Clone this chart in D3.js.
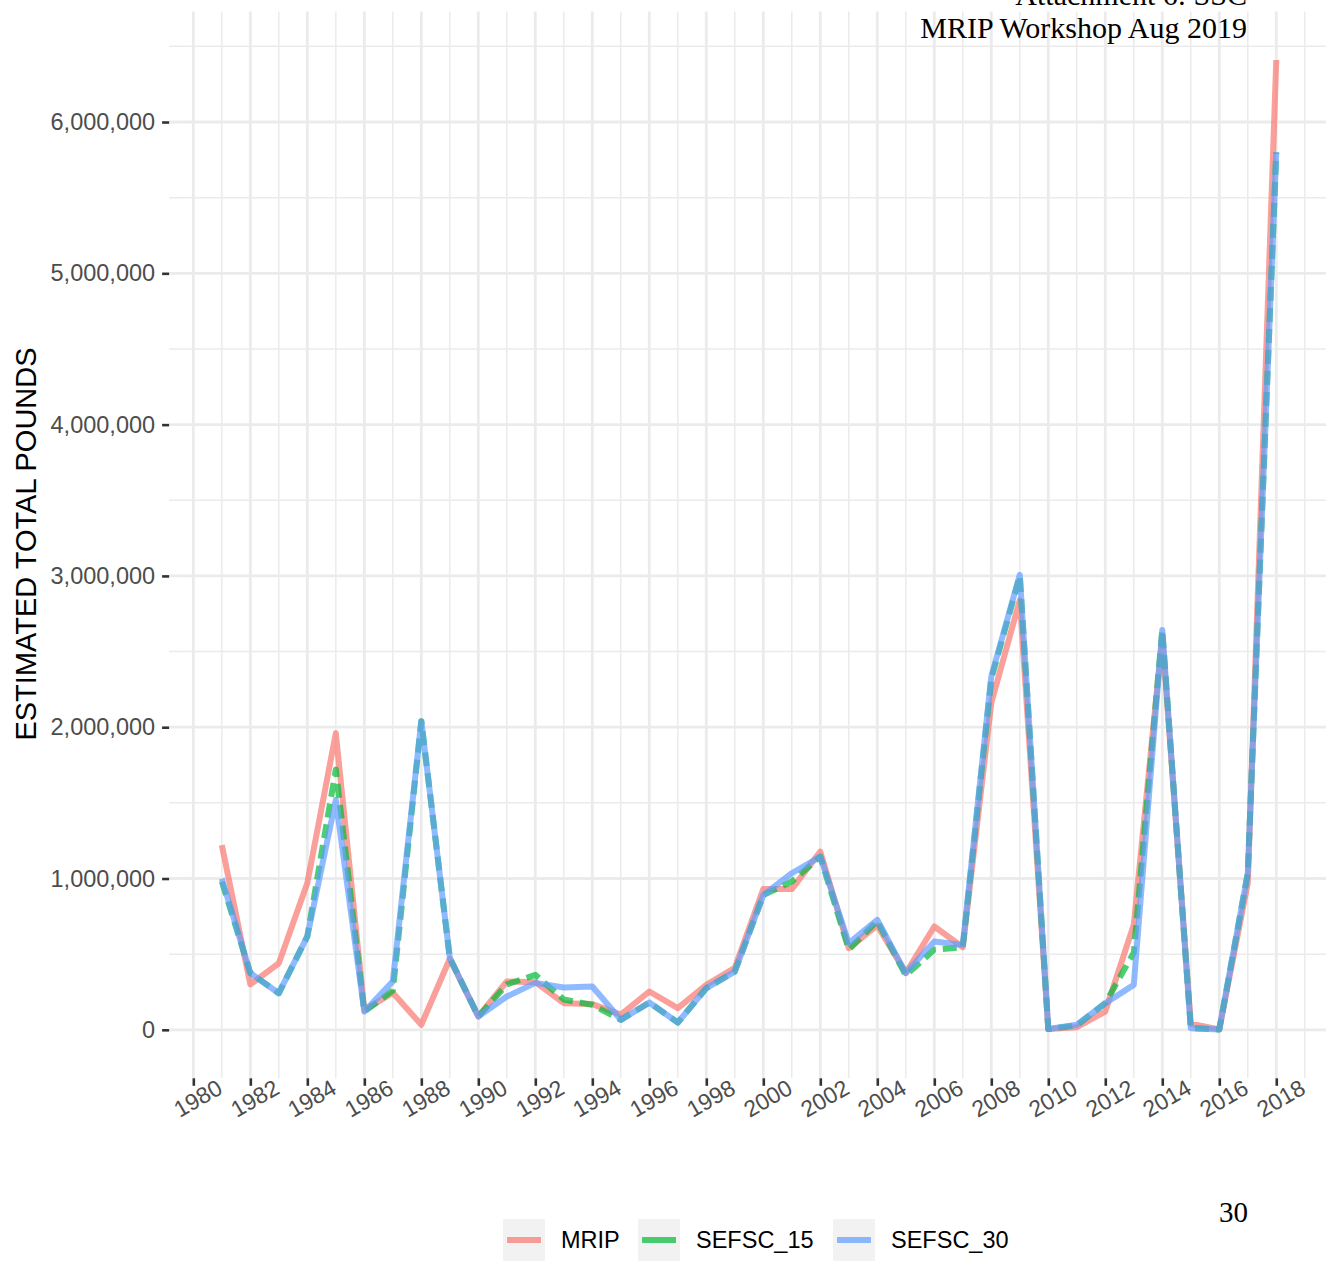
<!DOCTYPE html>
<html><head><meta charset="utf-8">
<script src="https://cdn.jsdelivr.net/npm/d3@7"></script>
<style>
html,body{margin:0;padding:0;background:#fff;}
svg{display:block;}
</style></head>
<body>
<svg id="chart" width="1326" height="1261"></svg>
<script>
const years = d3.range(1981, 2019);
const mrip = [1220000,300000,440000,970000,1960000,130000,245000,33000,470000,88000,
  320000,315000,176000,170000,100000,253000,143000,297000,410000,930000,
  930000,1178000,540000,690000,375000,683000,546000,2160000,2840000,5000,
  17000,121000,694000,2600000,40000,3000,969000,6410000];
const sefsc15 = [980000,375000,242000,617000,1720000,120000,260000,2040000,474000,88000,
  300000,363000,200000,165000,66000,180000,48000,275000,385000,890000,
  980000,1145000,530000,720000,360000,530000,546000,2320000,3000000,5000,
  30000,176000,510000,2643000,11000,2000,1035000,5800000];
const sefsc30 = [1000000,375000,242000,617000,1520000,120000,320000,2040000,474000,88000,
  220000,310000,280000,286000,66000,180000,48000,275000,385000,890000,
  1035000,1145000,573000,727000,375000,584000,560000,2335000,3007000,5000,
  33000,176000,297000,2643000,11000,2000,1035000,5800000];
const seriesNames = ["MRIP","SEFSC_15","SEFSC_30"];
const seriesColors = ["#F8766D","#00BA38","#619CFF"];
const xTicks = d3.range(1980, 2019, 2);
const yTicks = [0,1000000,2000000,3000000,4000000,5000000,6000000];

const svg = d3.select("#chart");
const panel = {left:169.1, right:1329, top:11.5, bottom:1078.3};
const x = d3.scaleLinear().domain([1979.15, 2019.85]).range([panel.left, panel.right]);
const y = d3.scaleLinear().domain([-320500, 6730500]).range([panel.bottom, panel.top]);

const grid = svg.append("g");
const xMinor = d3.range(1979, 2020, 2).filter(v => v > 1979.15 && v < 2019.85);
const yMinor = d3.range(-500000, 7000000, 1000000).filter(v => v > -320500 && v < 6730500);
grid.selectAll(".xm").data(xMinor).enter().append("line")
  .attr("x1", d=>x(d)).attr("x2", d=>x(d)).attr("y1", panel.top).attr("y2", panel.bottom)
  .attr("stroke","#EBEBEB").attr("stroke-width",1.5);
grid.selectAll(".ym").data(yMinor).enter().append("line")
  .attr("x1", panel.left).attr("x2", panel.right).attr("y1", d=>y(d)).attr("y2", d=>y(d))
  .attr("stroke","#EBEBEB").attr("stroke-width",1.5);
grid.selectAll(".xM").data(xTicks).enter().append("line")
  .attr("x1", d=>x(d)).attr("x2", d=>x(d)).attr("y1", panel.top).attr("y2", panel.bottom)
  .attr("stroke","#EBEBEB").attr("stroke-width",2.8);
grid.selectAll(".yM").data(yTicks).enter().append("line")
  .attr("x1", panel.left).attr("x2", panel.right).attr("y1", d=>y(d)).attr("y2", d=>y(d))
  .attr("stroke","#EBEBEB").attr("stroke-width",2.8);

const yAxis = svg.append("g").attr("transform", `translate(${panel.left},0)`)
  .call(d3.axisLeft(y).tickValues(yTicks).tickFormat(d3.format(",")).tickSize(7).tickPadding(7));
yAxis.select(".domain").remove();
yAxis.selectAll(".tick line").attr("stroke","#333333").attr("stroke-width",2.6);
yAxis.selectAll(".tick text").attr("fill","#4D4D4D")
  .style("font-family","'Liberation Sans', Arial, sans-serif").style("font-size","23.5px");

const xAxis = svg.append("g").attr("transform", `translate(0,${panel.bottom})`)
  .call(d3.axisBottom(x).tickValues(xTicks).tickFormat(d3.format("d")).tickSize(7.5));
xAxis.select(".domain").remove();
xAxis.selectAll(".tick line").attr("stroke","#333333").attr("stroke-width",2.6);
xAxis.selectAll(".tick text").remove();
xAxis.selectAll(".tick").append("text")
  .attr("fill","#4D4D4D")
  .style("font-family","'Liberation Sans', Arial, sans-serif").style("font-size","23px")
  .attr("text-anchor","middle")
  .attr("transform","translate(4,20) rotate(-30)")
  .attr("dy","0.35em")
  .text(d=>d);

svg.append("text")
  .attr("transform","translate(36,544) rotate(-90)")
  .attr("text-anchor","middle")
  .style("font-family","'Liberation Sans', Arial, sans-serif").style("font-size","29px")
  .attr("fill","#000").text("ESTIMATED TOTAL POUNDS");

const line = d3.line().x((d,i)=>x(years[i])).y(d=>y(d));
const seriesData = [mrip, sefsc15, sefsc30];
const lg = svg.append("g");
seriesData.forEach((s, k) => {
  lg.append("path").datum(s).attr("d", line)
    .attr("fill","none").attr("stroke", seriesColors[k]).attr("stroke-opacity",0.7)
    .attr("stroke-width",6).attr("stroke-linejoin","round").attr("stroke-linecap","butt")
    .attr("stroke-dasharray", k===1 ? "14,7" : null);
});

svg.append("text").attr("x",1247).attr("y",5).attr("text-anchor","end")
  .style("font-family","'Liberation Serif', 'Times New Roman', serif").style("font-size","30px")
  .attr("fill","#000").text("Attachment 6: SSC");
svg.append("text").attr("x",1247).attr("y",38).attr("text-anchor","end")
  .style("font-family","'Liberation Serif', 'Times New Roman', serif").style("font-size","30px")
  .attr("fill","#000").text("MRIP Workshop Aug 2019");
svg.append("text").attr("x",1248).attr("y",1221.5).attr("text-anchor","end")
  .style("font-family","'Liberation Serif', 'Times New Roman', serif").style("font-size","29px")
  .attr("fill","#000").text("30");

const legX = [503, 638, 833];
const leg = svg.append("g");
seriesNames.forEach((n,k) => {
  const g = leg.append("g").attr("transform",`translate(${legX[k]},1219)`);
  g.append("rect").attr("width",42).attr("height",42).attr("fill","#F2F2F2");
  g.append("line").attr("x1",4).attr("x2",38).attr("y1",21).attr("y2",21)
    .attr("stroke",seriesColors[k]).attr("stroke-opacity",0.7).attr("stroke-width",6);
  g.append("text").attr("x",58).attr("y",21).attr("dy","0.35em")
    .style("font-family","'Liberation Sans', Arial, sans-serif").style("font-size","23.5px")
    .attr("fill","#000").text(n);
});
</script>
</body></html>
